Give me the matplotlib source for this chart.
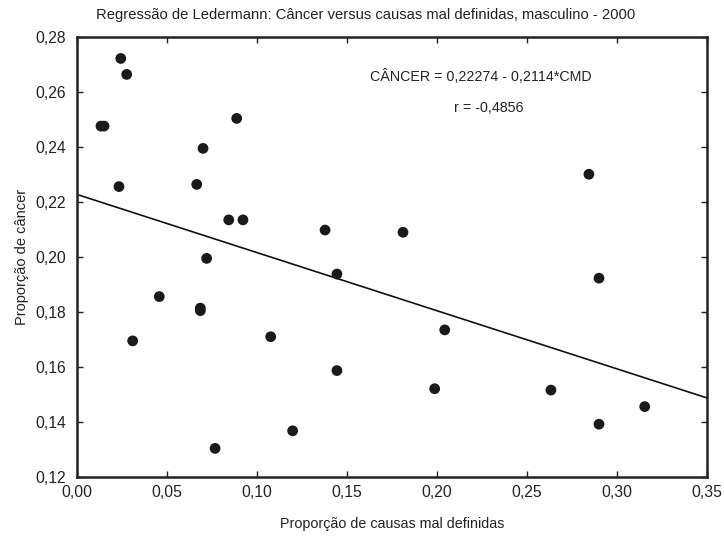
import numpy as np
import matplotlib
matplotlib.use("Agg")
import matplotlib.pyplot as plt

plt.rcParams['font.family'] = ['Liberation Sans', 'DejaVu Sans']

# proporcao de causas mal definidas (CMD) e proporcao de cancer, masculino 2000
cmd = [0.0133, 0.0150, 0.0243, 0.0276, 0.0233, 0.0665, 0.0700, 0.0887, 0.0843,
       0.0922, 0.0720, 0.1378, 0.1444, 0.0457, 0.0685, 0.0685, 0.0309, 0.1076,
       0.1444, 0.1198, 0.0767, 0.1811, 0.2844, 0.2900, 0.2043, 0.1987, 0.2633,
       0.3154, 0.2900]
cancer = [0.2476, 0.2476, 0.2722, 0.2664, 0.2256, 0.2264, 0.2395, 0.2504, 0.2135,
          0.2135, 0.1995, 0.2098, 0.1938, 0.1856, 0.1814, 0.1805, 0.1695, 0.1710,
          0.1587, 0.1368, 0.1304, 0.2090, 0.2301, 0.1923, 0.1735, 0.1521, 0.1516,
          0.1456, 0.1392]

# reta de regressao
a, b = 0.22274, -0.2114
x_ticks = [0.00, 0.05, 0.10, 0.15, 0.20, 0.25, 0.30, 0.35]
y_ticks = [0.12, 0.14, 0.16, 0.18, 0.20, 0.22, 0.24, 0.26, 0.28]

fig = plt.figure(figsize=(7.24, 5.38), dpi=100)
ax = fig.add_axes([0.1064, 0.1134, 0.8701, 0.8178])

xl = np.linspace(0, 0.35, 200)
ax.plot(xl, a + b * xl, color='#111111', lw=1.2, zorder=2)
ax.scatter(cmd, cancer, s=60, color='#1a1a1a', edgecolors='none', zorder=3)

ax.set_xlim(0, 0.35)
ax.set_ylim(0.12, 0.28)
ax.set_xticks(x_ticks)
ax.set_yticks(y_ticks)
ax.set_xticklabels([('%.2f' % v).replace('.', ',') for v in x_ticks])
ax.set_yticklabels([('%.2f' % v).replace('.', ',') for v in y_ticks])
ax.tick_params(direction='in', length=4, width=1, top=True, right=True,
               labelsize=11.3, colors='#222222', pad=6)
ax.tick_params(axis='y', pad=8)
for sp in ax.spines.values():
    sp.set_linewidth(1.8)
    sp.set_color('#222222')

ax.set_xlabel('Proporção de causas mal definidas', fontsize=10.3, color='#222222', labelpad=12)
ax.set_ylabel('Proporção de câncer', fontsize=10.5, color='#222222', labelpad=4)
fig.text(0.505, 0.972, 'Regressão de Ledermann: Câncer versus causas mal definidas, masculino - 2000',
         ha='center', va='center', fontsize=10.6, color='#222222')

ax.text(0.2244, 0.2658, 'CÂNCER = 0,22274 - 0,2114*CMD', ha='center', va='center',
        fontsize=10.3, color='#222222')
ax.text(0.2289, 0.2542, 'r = -0,4856', ha='center', va='center',
        fontsize=10.3, color='#222222')

fig.savefig('out.png', dpi=100)
